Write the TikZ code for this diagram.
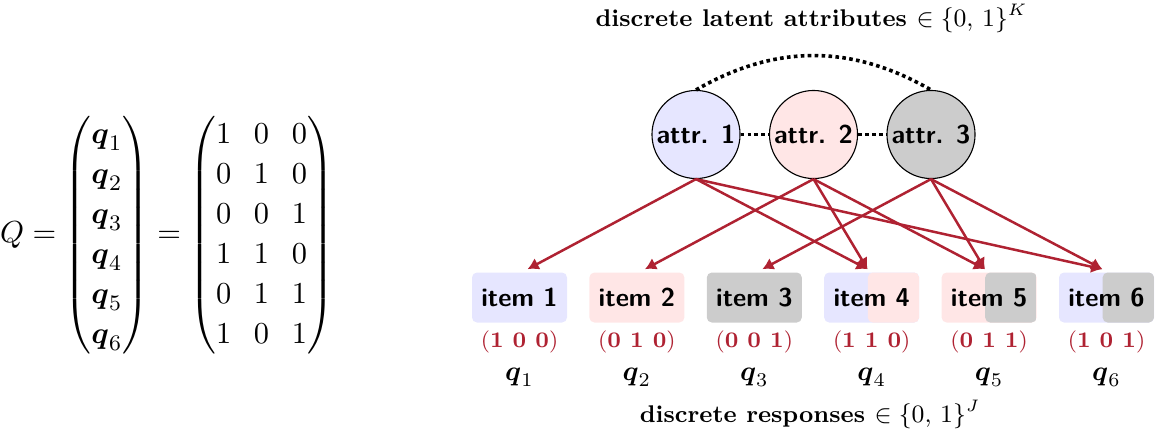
\documentclass[tikz,border=0pt]{standalone}
\usepackage{amsmath}
\usetikzlibrary{arrows.meta}
\definecolor{edgered}{RGB}{175,34,50}
\definecolor{attrblue}{RGB}{230,230,255}
\definecolor{attrpink}{RGB}{255,230,230}
\definecolor{attrgray}{RGB}{204,204,204}
\begin{document}
\begin{tikzpicture}[x=0.36pt, y=-0.36pt,
  attr/.style={circle, draw=black, line width=0.4pt, minimum size=31.7pt, inner sep=0pt,
    font=\fontsize{9.3}{11}\selectfont\sffamily\bfseries},
  itembox/.style={rectangle, rounded corners=1.8pt, minimum width=34.2pt, minimum height=18pt,
    inner sep=0pt, font=\fontsize{9.3}{11}\selectfont\sffamily\bfseries},
  tint/.style={path picture={\fill[#1, rounded corners=1.8pt]
      ([xshift=-1.4pt]path picture bounding box.north) rectangle (path picture bounding box.south east);}},
  link/.style={-{Latex[length=4pt,width=4.6pt]}, draw=edgered, line width=0.9pt},
  corr/.style={line width=1.3pt, dash pattern=on 1.3pt off 1.2pt},
  vec/.style={anchor=base, text=edgered, font=\fontsize{8}{10}\selectfont},
  qlab/.style={anchor=base, font=\fontsize{10}{12}\selectfont},
  heading/.style={anchor=base, font=\fontsize{8.7}{11}\selectfont\bfseries},
]
\useasboundingbox (0,0) rectangle (1158,432);

% Q-matrix written out
\node[font=\fontsize{11}{14.4}\selectfont] (Qeq) at (167,235)
  {$\setlength{\arraycolsep}{4.1pt}Q = \begin{pmatrix}\boldsymbol{q}_1\\ \boldsymbol{q}_2\\ \boldsymbol{q}_3\\ \boldsymbol{q}_4\\ \boldsymbol{q}_5\\ \boldsymbol{q}_6\end{pmatrix}
   = \begin{pmatrix}1&0&0\\0&1&0\\0&0&1\\1&1&0\\0&1&1\\1&0&1\end{pmatrix}$};

% headings
\node[heading] (top) at (811.5,26) {discrete latent attributes $\in\{0,\,1\}^K$};
\node[heading] (bottom) at (810,422) {discrete responses $\in\{0,\,1\}^J$};

% latent attributes
\node[attr, fill=attrblue] (a1) at (696,134.5) {attr. 1};
\node[attr, fill=attrpink] (a2) at (813.5,134.5) {attr. 2};
\node[attr, fill=attrgray] (a3) at (931,134.5) {attr. 3};

\draw[corr] (a1) -- (a2);
\draw[corr] (a2) -- (a3);
\draw[corr] (a1.north) to[bend left=30] (a3.north);

% items
\node[itembox, fill=attrblue] (i1) at (519.5,297.5) {item 1};
\node[itembox, fill=attrpink] (i2) at (636.9,297.5) {item 2};
\node[itembox, fill=attrgray] (i3) at (754.3,297.5) {item 3};
\node[itembox, fill=attrblue, tint=attrpink] (i4) at (871.7,297.5) {item 4};
\node[itembox, fill=attrpink, tint=attrgray] (i5) at (989.1,297.5) {item 5};
\node[itembox, fill=attrblue, tint=attrgray] (i6) at (1106.5,297.5) {item 6};

% q-vectors
\node[vec] (v1) at (519.5,347.5) {(\textbf{1 0 0})};
\node[vec] (v2) at (636.9,347.5) {(\textbf{0 1 0})};
\node[vec] (v3) at (754.3,347.5) {(\textbf{0 0 1})};
\node[vec] (v4) at (871.7,347.5) {(\textbf{1 1 0})};
\node[vec] (v5) at (989.1,347.5) {(\textbf{0 1 1})};
\node[vec] (v6) at (1106.5,347.5) {(\textbf{1 0 1})};

\node[qlab] (q1) at (519.5,380) {$\boldsymbol{q}_1$};
\node[qlab] (q2) at (636.9,380) {$\boldsymbol{q}_2$};
\node[qlab] (q3) at (754.3,380) {$\boldsymbol{q}_3$};
\node[qlab] (q4) at (871.7,380) {$\boldsymbol{q}_4$};
\node[qlab] (q5) at (989.1,380) {$\boldsymbol{q}_5$};
\node[qlab] (q6) at (1106.5,380) {$\boldsymbol{q}_6$};

% attribute -> item links
\draw[link] (a1.south) -- ([xshift=2.9pt,yshift=1pt]i1.north);
\draw[link] (a1.south) -- ([xshift=-1.5pt,yshift=1pt]i4.north);
\draw[link] (a1.south) -- ([xshift=-1.5pt,yshift=1pt]i6.north);
\draw[link] (a2.south) -- ([xshift=2.9pt,yshift=1pt]i2.north);
\draw[link] (a2.south) -- ([xshift=-1.5pt,yshift=1pt]i4.north);
\draw[link] (a2.south) -- ([xshift=-1.5pt,yshift=1pt]i5.north);
\draw[link] (a3.south) -- ([xshift=2.9pt,yshift=1pt]i3.north);
\draw[link] (a3.south) -- ([xshift=-1.5pt,yshift=1pt]i5.north);
\draw[link] (a3.south) -- ([xshift=-1.5pt,yshift=1pt]i6.north);
\end{tikzpicture}
\end{document}
